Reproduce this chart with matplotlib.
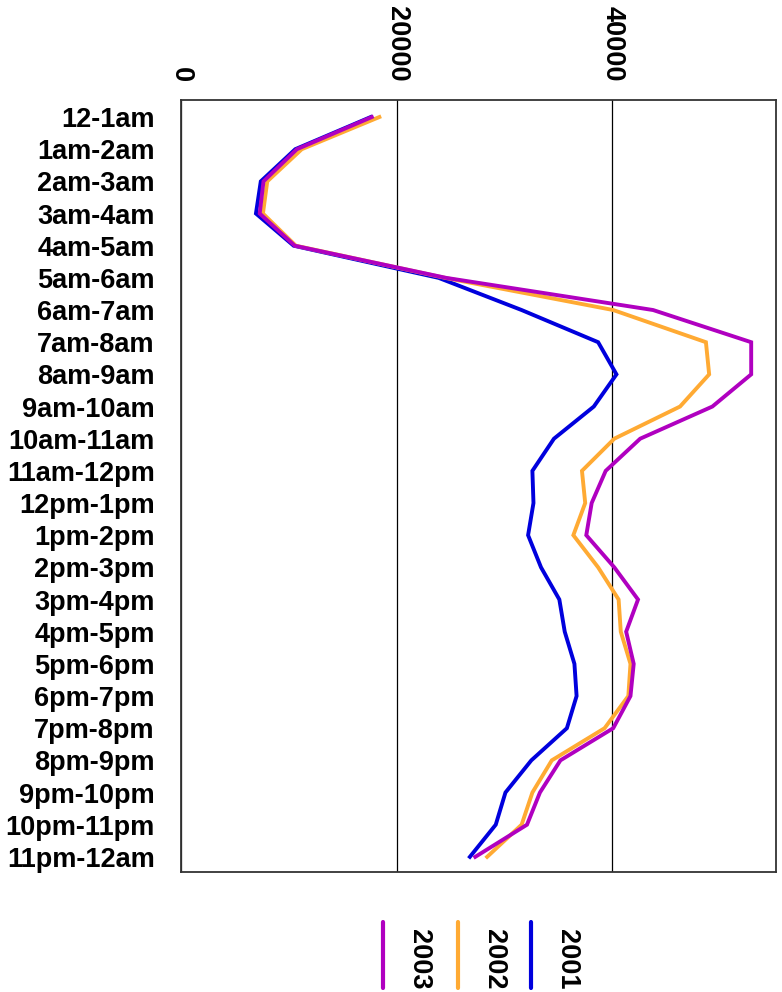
"""Hourly counts by year, drawn sideways like the original report chart."""
import matplotlib
matplotlib.use('Agg')
import matplotlib.pyplot as plt
from matplotlib.lines import Line2D

plt.rcParams['font.family'] = ['Liberation Sans', 'DejaVu Sans']
plt.rcParams['font.weight'] = 'bold'

hours = ['12-1am', '1am-2am', '2am-3am', '3am-4am', '4am-5am', '5am-6am',
         '6am-7am', '7am-8am', '8am-9am', '9am-10am', '10am-11am',
         '11am-12pm', '12pm-1pm', '1pm-2pm', '2pm-3pm', '3pm-4pm',
         '4pm-5pm', '5pm-6pm', '6pm-7pm', '7pm-8pm', '8pm-9pm', '9pm-10pm',
         '10pm-11pm', '11pm-12am']

y2001 = [17600, 10600, 7400, 6950, 10450, 23900, 31600, 38700, 40400,
         38300, 34600, 32600, 32700, 32200, 33400, 35100, 35600, 36500,
         36700, 35800, 32500, 30100, 29200, 26800]
y2002 = [18400, 11200, 8000, 7600, 10650, 24500, 40100, 48700, 49000,
         46300, 40200, 37200, 37500, 36400, 38700, 40600, 40800, 41700,
         41500, 39300, 34400, 32600, 31600, 28400]
y2003 = [17700, 10750, 7650, 7300, 10550, 24600, 43800, 52900, 52900,
         49300, 42600, 39400, 38100, 37600, 40200, 42400, 41300, 42000,
         41700, 40100, 35200, 33300, 32100, 27300]

years = ['2001', '2002', '2003']
colors = ['#0000dd', '#ffaa33', '#b000c0']
series = [y2001, y2002, y2003]
FS = 19.5

fig = plt.figure(figsize=(7.82, 9.92), dpi=100)
ax = fig.add_axes([0.2315, 0.121, 0.7608, 0.7782])

pos = list(range(len(hours)))
for vals, c in zip(series, colors):
    ax.plot(vals, pos, color=c, lw=2.8, solid_joinstyle='miter', zorder=3)

ax.set_xlim(0, 55200)
ax.set_ylim(len(hours) - 0.53, -0.53)
ax.set_xticks([0, 20000, 40000])
ax.set_yticks(pos)
ax.set_yticklabels(hours)
ax.xaxis.tick_top()
ax.tick_params(axis='x', length=0, pad=13, labelsize=FS, labelrotation=-90)
ax.tick_params(axis='y', length=0, pad=19, labelsize=FS)
for lab in ax.get_xticklabels():
    lab.set_fontweight('bold')
for lab in ax.get_yticklabels():
    lab.set_fontweight('bold')
ax.grid(axis='x', color='black', lw=0.9, zorder=1)
for s in ax.spines.values():
    s.set_color('#333333')
    s.set_linewidth(1.3)

# legend drawn by hand: rotated labels with a short vertical line each
W, H = 782.0, 992.0
leg_x = [383, 458, 531]
for x, yr, c in zip(leg_x, years[::-1], colors[::-1]):
    fig.add_artist(Line2D([x / W, x / W], [1 - 922 / H, 1 - 988 / H],
                          color=c, lw=3, solid_capstyle='round'))
    fig.text((x + 36) / W, 1 - 929 / H, yr, rotation=-90, ha='center',
             va='top', fontsize=FS, fontweight='bold')

fig.savefig('out.png', dpi=100)
